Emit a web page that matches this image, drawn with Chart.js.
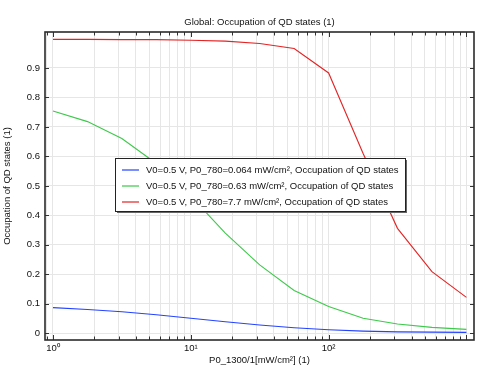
<!DOCTYPE html>
<html>
<head>
<meta charset="utf-8">
<script src="https://cdn.jsdelivr.net/npm/chart.js@4.4.1/dist/chart.umd.min.js"></script>
<style>
  html, body { margin: 0; padding: 0; background: #fff; }
  canvas { display: block; }
</style>
</head>
<body>
<canvas id="chart" width="479" height="366"></canvas>
<script>
// data
const powerValues = [1, 1.78, 3.16, 5.62, 10, 17.8, 31.6, 56.2, 100, 178, 316, 562, 1000];
const occupationLow = [0.087, 0.081, 0.073, 0.063, 0.051, 0.039, 0.028, 0.019, 0.012, 0.0075, 0.005, 0.004, 0.003];
const occupationMid = [0.754, 0.718, 0.661, 0.576, 0.465, 0.34, 0.232, 0.145, 0.091, 0.051, 0.0315, 0.02, 0.0135];
const occupationHigh = [0.997, 0.997, 0.996, 0.996, 0.994, 0.991, 0.983, 0.966, 0.883, 0.61, 0.356, 0.209, 0.122];
const seriesLabels = [
  "V0=0.5 V, P0_780=0.064 mW/cm², Occupation of QD states",
  "V0=0.5 V, P0_780=0.63 mW/cm², Occupation of QD states",
  "V0=0.5 V, P0_780=7.7 mW/cm², Occupation of QD states"
];
const seriesColors = ["#2443ff", "#3dc94a", "#e32424"];
const chartTitle = "Global: Occupation of QD states (1)";

const xMajorTicks = [1, 10, 100];
const xTickLabels = ["10⁰", "10¹", "10²"];
const yTicks = [0, 0.1, 0.2, 0.3, 0.4, 0.5, 0.6, 0.7, 0.8, 0.9];
const yTickLabels = ["0", "0.1", "0.2", "0.3", "0.4", "0.5", "0.6", "0.7", "0.8", "0.9"];

// 0.9, 1..9, 10..90, 100..900, 1000
const xAllTicks = [0.9];
[1, 10, 100].forEach(d => { for (let i = 1; i < 10; i++) xAllTicks.push(i * d); });
xAllTicks.push(1000);

const FONT = { family: "'Liberation Sans', Arial, sans-serif", size: 9.5 };

const toPoints = ys => powerValues.map((x, i) => ({ x: x, y: ys[i] }));

// frame + inward tick marks on all four sides, title centred over the plot
const framePlugin = {
  id: "frame",
  afterDraw(chart) {
    const { ctx, chartArea: a, scales } = chart;
    ctx.save();
    ctx.strokeStyle = "#333";
    ctx.lineWidth = 1;
    ctx.beginPath();
    xAllTicks.forEach(v => {
      const px = Math.round(scales.x.getPixelForValue(v)) + 0.5;
      const len = xMajorTicks.includes(v) || v === 1000 ? 5 : 3.5;
      ctx.moveTo(px, a.bottom); ctx.lineTo(px, a.bottom - len);
      ctx.moveTo(px, a.top); ctx.lineTo(px, a.top + len);
    });
    yTicks.forEach(v => {
      const py = Math.round(scales.y.getPixelForValue(v)) + 0.5;
      ctx.moveTo(a.left, py); ctx.lineTo(a.left + 4, py);
      ctx.moveTo(a.right, py); ctx.lineTo(a.right - 4, py);
    });
    ctx.stroke();
    ctx.lineWidth = 1.6;
    ctx.strokeStyle = "#2b2b2b";
    ctx.strokeRect(a.left, a.top, a.right - a.left, a.bottom - a.top);

    ctx.fillStyle = "#111";
    ctx.font = FONT.size + "px " + FONT.family;
    ctx.textAlign = "center";
    ctx.textBaseline = "middle";
    ctx.fillText(chartTitle, (a.left + a.right) / 2, a.top - 9.5);
    ctx.restore();
  }
};

// boxed legend with shadow sitting inside the plot
const boxLegend = {
  id: "boxLegend",
  afterDraw(chart) {
    const { ctx, chartArea: a } = chart;
    const left = a.left + 70, top = a.top + 126, w = 290, h = 53;
    ctx.save();
    ctx.fillStyle = "#666";
    ctx.fillRect(left + 2, top + 2, w, h);
    ctx.fillStyle = "#fff";
    ctx.fillRect(left, top, w, h);
    ctx.strokeStyle = "#222";
    ctx.lineWidth = 1;
    ctx.strokeRect(left + 0.5, top + 0.5, w, h);
    ctx.font = FONT.size + "px " + FONT.family;
    ctx.textBaseline = "middle";
    chart.data.datasets.forEach((ds, i) => {
      const y = top + 12 + i * 16;
      ctx.strokeStyle = ds.borderColor;
      ctx.lineWidth = 1.2;
      ctx.beginPath();
      ctx.moveTo(left + 7, y);
      ctx.lineTo(left + 24, y);
      ctx.stroke();
      ctx.fillStyle = "#111";
      ctx.fillText(ds.label, left + 31, y);
    });
    ctx.restore();
  }
};

const data = {
  datasets: [occupationLow, occupationMid, occupationHigh].map((ys, i) => ({
    label: seriesLabels[i],
    data: toPoints(ys),
    borderColor: seriesColors[i],
    borderWidth: 1.1,
    pointRadius: 0,
    tension: 0,
    fill: false
  }))
};

const config = {
  type: "line",
  data,
  options: {
    responsive: false,
    animation: false,
    layout: { padding: { left: 0, right: 5, top: 32, bottom: 0 } },
    plugins: {
      legend: { display: false },
      tooltip: { enabled: false },
      title: { display: false }
    },
    scales: {
      x: {
        type: "logarithmic",
        min: 0.875,
        max: 1135,
        afterBuildTicks: scale => { scale.ticks = xAllTicks.map(v => ({ value: v })); },
        afterFit: scale => { scale.height = 26; },
        grid: { color: "#e6e6e6", drawTicks: false },
        border: { display: false },
        ticks: {
          autoSkip: false,
          maxRotation: 0,
          padding: 3,
          color: "#111",
          font: FONT,
          callback: v => {
            const k = xMajorTicks.indexOf(v);
            return k >= 0 ? xTickLabels[k] : "";
          }
        },
        title: {
          display: true,
          text: "P0_1300/1[mW/cm²] (1)",
          color: "#111",
          font: FONT,
          padding: { top: 0, bottom: 0 }
        }
      },
      y: {
        min: -0.0227,
        max: 1.022,
        afterBuildTicks: scale => { scale.ticks = yTicks.map(v => ({ value: v })); },
        afterFit: scale => { scale.width = 45; },
        grid: { color: "#e6e6e6", drawTicks: false },
        border: { display: false },
        ticks: {
          padding: 5,
          color: "#111",
          font: FONT,
          callback: v => {
            const k = yTicks.findIndex(t => Math.abs(t - v) < 1e-9);
            return k >= 0 ? yTickLabels[k] : "";
          }
        },
        title: {
          display: true,
          text: "Occupation of QD states (1)",
          color: "#111",
          font: FONT,
          padding: { top: 2, bottom: 0 }
        }
      }
    }
  },
  plugins: [framePlugin, boxLegend]
};

const myChart = new Chart(document.getElementById("chart"), config);
</script>
</body>
</html>
